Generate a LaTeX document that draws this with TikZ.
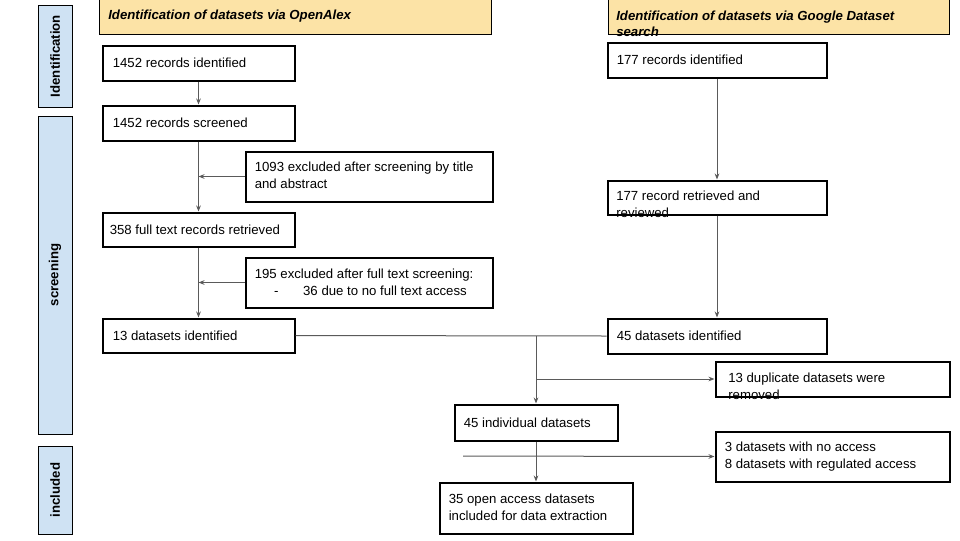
\documentclass[tikz,border=0pt]{standalone}
\usepackage{fontspec}
\setmainfont{Liberation Sans}
\usetikzlibrary{arrows.meta,calc}
\definecolor{hdr}{HTML}{FCE3A6}
\definecolor{side}{HTML}{CFE2F3}
\definecolor{conn}{HTML}{5A5A5A}
\newcommand\mkbox[6]{\node[#2, anchor=north west, minimum width={(#5-#3-1)*0.75pt}, minimum height={(#6-#4-1)*0.75pt}] (#1) at (#3+0.5,#4+0.5) {};}
\begin{document}
\begin{tikzpicture}[x=0.75pt,y=-0.75pt,
  box/.style={draw=black, line width=1.5pt, fill=white, inner sep=0pt},
  sidebox/.style={draw=black, line width=0.8pt, fill=side, inner sep=0pt},
  hdrbox/.style={draw=black, line width=0.8pt, fill=hdr, inner sep=0pt},
  txt/.style={inner sep=0pt, align=left, font=\fontsize{9.9}{12.75}\selectfont, anchor=west},
  sidetxt/.style={inner sep=0pt, rotate=90, anchor=center, font=\fontsize{9.9}{12}\selectfont\bfseries},
  hdrtxt/.style={inner sep=0pt, align=left, anchor=west, font=\fontsize{9.9}{12}\selectfont\bfseries\itshape},
  arr/.style={draw=conn, line width=0.75pt, -{Stealth[length=4.5pt,width=3.5pt]}},
  ln/.style={draw=conn, line width=0.75pt}]
\useasboundingbox (0,0) rectangle (960,540);
% sidebar
\mkbox{sid}{sidebox}{37}{4}{72}{107}
\mkbox{sscr}{sidebox}{37}{115}{72}{434}
\mkbox{sinc}{sidebox}{37}{445}{72}{534}
\node[sidetxt] (sidt) at (sid.center) {Identification};
\node[sidetxt] (sscrt) at (sscr.center) {screening};
\node[sidetxt] (sinct) at (sinc.center) {included};
% headers
\mkbox{hl}{hdrbox}{98}{-3}{491}{34}
\mkbox{hr}{hdrbox}{607}{-3}{949}{34}
\node[hdrtxt] (hlt) at (108,16) {Identification of datasets via OpenAlex};
\node[hdrtxt] (hrt) at (616,24) {Identification of datasets via Google Dataset\\search};
% left column
\mkbox{b1}{box}{101}{44}{294}{80}
\mkbox{b2}{box}{101}{104}{294}{140}
\mkbox{ex1}{box}{244}{150}{492}{201}
\mkbox{b3}{box}{101}{211}{294}{246}
\mkbox{ex2}{box}{244}{256}{492}{307}
\mkbox{b4}{box}{101}{317}{294}{352}
\node[txt] (b1t) at ($(b1.west)+(11,0)$) {1452 records identified};
\node[txt] (b2t) at ($(b2.west)+(11,0)$) {1452 records screened};
\node[txt] (ex1t) at ($(ex1.west)+(10,-1)$) {1093 excluded after screening by title\\and abstract};
\node[txt] (b3t) at ($(b3.west)+(8,0)$) {358 full text records retrieved};
\node[txt] (ex2t) at ($(ex2.west)+(10,0)$) {195 excluded after full text screening:\\\hspace*{14.5pt}-\hspace*{18.5pt}36 due to no full text access};
\node[txt] (b4t) at ($(b4.west)+(11,0)$) {13 datasets identified};
% right column
\mkbox{g1}{box}{606}{41}{826}{77}
\mkbox{g2}{box}{606}{179}{826}{214}
\mkbox{g3}{box}{606}{317}{826}{353}
\node[txt] (g1t) at ($(g1.west)+(10,0)$) {177 records identified};
\node[txt] (g2t) at (616,204.5) {177 record retrieved and\\reviewed};
\node[txt] (g3t) at ($(g3.west)+(10,0)$) {45 datasets identified};
% merge part
\mkbox{dup}{box}{714}{360}{949}{396}
\mkbox{ind}{box}{453}{403}{617}{440}
\mkbox{acc}{box}{714}{430}{949}{481}
\mkbox{fin}{box}{438}{481}{632}{533}
\node[txt] (dupt) at (728,386) {13 duplicate datasets were\\removed};
\node[txt] (indt) at ($(ind.west)+(10,0)$) {45 individual datasets};
\node[txt] (acct) at ($(acc.west)+(10,0)$) {3 datasets with no access\\8 datasets with regulated access};
\node[txt] (fint) at ($(fin.west)+(10,-1)$) {35 open access datasets\\included for data extraction};
% connectors
\draw[arr] (b1) -- (b2);
\draw[arr] (b2) -- (b3);
\draw[arr] (ex1.west) -- (b2.south |- ex1.west);
\draw[arr] (b3) -- (b4);
\draw[arr] (ex2.west) -- (b3.south |- ex2.west);
\draw[arr] (g1) -- (g2);
\draw[arr] (g2) -- (g3);
\draw[ln] (b4.east) -- (g3.west);
\coordinate (m) at (ind.north |- b4.east);
\draw[arr] (m) -- (ind.north);
\draw[arr] (ind.north |- dup.west) -- (dup.west);
\draw[arr] (ind) -- (fin);
\coordinate (s) at (463,456);
\draw[arr] (s) -- (acc.west);
\end{tikzpicture}
\end{document}
